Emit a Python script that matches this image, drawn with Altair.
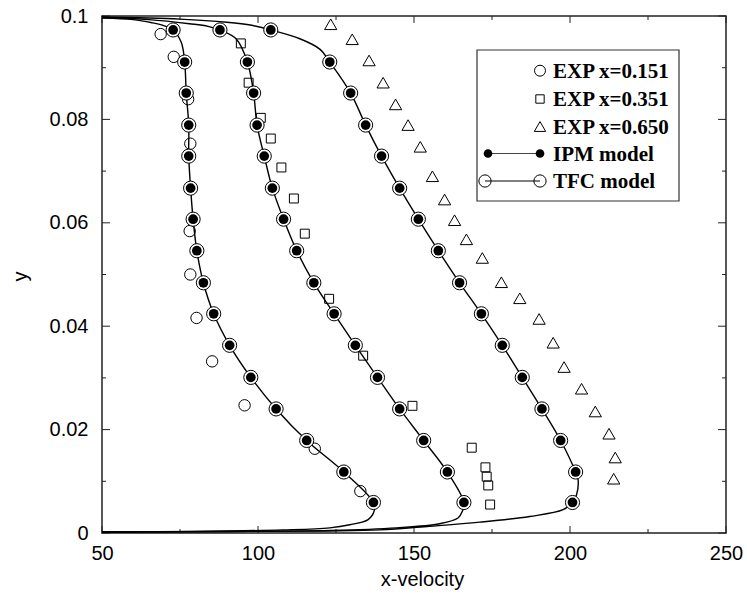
import altair as alt
import pandas as pd

# ---- model profiles (IPM / TFC share the same marker positions) ----
Y_MODEL = [0.0059, 0.0118, 0.0179, 0.0240, 0.0301, 0.0363, 0.0424, 0.0484,
           0.0546, 0.0607, 0.0667, 0.0729, 0.0789, 0.0851, 0.0911, 0.0973]
X_MODEL_151 = [137.0, 127.5, 115.6, 105.8, 97.7, 90.9, 85.8, 82.5,
               80.4, 79.2, 78.4, 77.8, 77.8, 77.0, 76.5, 72.8]
X_MODEL_351 = [166.0, 160.7, 153.1, 145.4, 138.3, 131.2, 124.4, 117.9,
               112.4, 108.2, 104.6, 102.0, 99.7, 98.6, 96.6, 87.8]
X_MODEL_650 = [200.8, 201.8, 197.0, 191.0, 184.7, 178.3, 171.6, 164.6,
               157.8, 151.4, 145.4, 139.6, 134.5, 129.7, 123.0, 104.1]

# continuous model curves, wall to wall (ordered along the profile)
CURVE_151_X = [50, 80, 108, 123, 129.4, 135.3, 137.2, 137.0, 127.5, 115.6, 105.8,
               97.7, 90.9, 85.8, 82.5, 80.4, 79.2, 78.4, 77.8, 77.8, 77.0, 76.5,
               75.4, 72.8, 70.0, 66.0, 60.0, 50]
CURVE_151_Y = [0.0002, 0.0003, 0.0006, 0.0010, 0.0016, 0.0026, 0.0042, 0.0059,
               0.0118, 0.0179, 0.0240, 0.0301, 0.0363, 0.0424, 0.0484, 0.0546,
               0.0607, 0.0667, 0.0729, 0.0789, 0.0851, 0.0911, 0.0949, 0.0973,
               0.0981, 0.0987, 0.0993, 0.0996]
CURVE_351_X = [50, 90, 123, 144.4, 158.2, 164.1, 165.5, 166.0, 160.7, 153.1, 145.4,
               138.3, 131.2, 124.4, 117.9, 112.4, 108.2, 104.6, 102.0, 99.7, 98.6,
               96.6, 93.1, 87.8, 84.0, 78.0, 65.0, 50]
CURVE_351_Y = [0.0002, 0.0003, 0.0005, 0.0010, 0.0018, 0.0029, 0.0042, 0.0059,
               0.0118, 0.0179, 0.0240, 0.0301, 0.0363, 0.0424, 0.0484, 0.0546,
               0.0607, 0.0667, 0.0729, 0.0789, 0.0851, 0.0911, 0.0955, 0.0973,
               0.0980, 0.0985, 0.0993, 0.0997]
CURVE_650_X = [50, 90, 123, 139, 155, 171.1, 187.1, 197.8, 200.8, 202.1, 202.6,
               201.8, 197.0, 191.0, 184.7, 178.3, 171.6, 164.6, 157.8, 151.4, 145.4,
               139.6, 134.5, 129.7, 123.0, 119.8, 113.4, 104.1, 98.0, 90.0, 75.0, 50]
CURVE_650_Y = [0.0002, 0.0003, 0.0004, 0.0006, 0.0013, 0.0021, 0.0032, 0.0045,
               0.0059, 0.0074, 0.0103, 0.0118, 0.0179, 0.0240, 0.0301, 0.0363,
               0.0424, 0.0484, 0.0546, 0.0607, 0.0667, 0.0729, 0.0789, 0.0851,
               0.0911, 0.0936, 0.0956, 0.0973, 0.0982, 0.0988, 0.0994, 0.0998]

# ---- experimental data ----
EXP_151_X = [68.8, 73.0, 77.6, 78.3, 78.5, 78.1, 78.3, 80.3, 85.3, 95.7, 118.2, 132.8]
EXP_151_Y = [0.0965, 0.0921, 0.0839, 0.0753, 0.0668, 0.0584, 0.0500, 0.0416,
             0.0332, 0.0247, 0.0163, 0.0081]
EXP_351_X = [94.5, 97.0, 100.9, 104.1, 107.5, 111.5, 115.0, 122.8, 133.7, 149.5,
             168.5, 172.9, 173.3, 173.8, 174.4]
EXP_351_Y = [0.0947, 0.0871, 0.0803, 0.0763, 0.0707, 0.0647, 0.0579, 0.0453,
             0.0343, 0.0246, 0.0165, 0.0127, 0.0109, 0.0092, 0.0055]
EXP_650_X = [123.3, 130.2, 135.6, 140.1, 144.1, 148.1, 152.0, 155.9, 159.8, 163.0,
             166.8, 171.9, 178.0, 183.9, 190.1, 194.6, 198.1, 203.7, 208.1, 212.5,
             214.5, 214.0]
EXP_650_Y = [0.0984, 0.0955, 0.0914, 0.0871, 0.0829, 0.0789, 0.0747, 0.0690,
             0.0645, 0.0605, 0.0568, 0.0532, 0.0485, 0.0454, 0.0414, 0.0368,
             0.0321, 0.0279, 0.0235, 0.0192, 0.0146, 0.0105]

# ---- axes ----
X_TICKS = [50, 100, 150, 200, 250]
X_MINOR = [75, 125, 175, 225]
Y_TICKS = [0, 0.02, 0.04, 0.06, 0.08, 0.1]
Y_MINOR = [0.01, 0.03, 0.05, 0.07, 0.09]

LEGEND_LABELS = ["EXP x=0.151", "EXP x=0.351", "EXP x=0.650", "IPM model", "TFC model"]

W, H = 624, 517
FONT = "Liberation Sans"
INK = "#000000"

xscale = alt.Scale(domain=[50, 250], nice=False, zero=False)
yscale = alt.Scale(domain=[0, 0.1], nice=False, zero=False)

x_axis = alt.Axis(values=X_TICKS, format="d", ticks=False, tickSize=0, domain=False,
                  grid=False, labelFont=FONT, labelFontSize=20, labelColor=INK,
                  labelPadding=10, labelFlush=False, title="x-velocity",
                  titleFont=FONT, titleFontSize=20, titleFontWeight="normal",
                  titleColor=INK, titleX=320, titleY=52, titleBaseline="alphabetic",
                  titleAlign="center")
y_axis = alt.Axis(values=Y_TICKS, format="~g", ticks=False, tickSize=0, domain=False,
                  grid=False, labelFont=FONT, labelFontSize=20, labelColor=INK,
                  labelPadding=14, labelFlush=False, title="y",
                  titleFont=FONT, titleFontSize=20, titleFontWeight="normal",
                  titleColor=INK, titleAngle=-90, titleX=-76, titleY=260,
                  titleAlign="center", titleBaseline="alphabetic")


def X(field):
    return alt.X(f"{field}:Q", scale=xscale, axis=x_axis)


def Y(field):
    return alt.Y(f"{field}:Q", scale=yscale, axis=y_axis)


# tables built from the arrays above
curves = pd.concat([
    pd.DataFrame({"x": cx, "y": cy, "profile": name, "idx": range(len(cx))})
    for name, cx, cy in [("x=0.151", CURVE_151_X, CURVE_151_Y),
                         ("x=0.351", CURVE_351_X, CURVE_351_Y),
                         ("x=0.650", CURVE_650_X, CURVE_650_Y)]
], ignore_index=True)

model = pd.concat([
    pd.DataFrame({"x": mx, "y": Y_MODEL, "profile": name})
    for name, mx in [("x=0.151", X_MODEL_151), ("x=0.351", X_MODEL_351),
                     ("x=0.650", X_MODEL_650)]
], ignore_index=True)

exp151 = pd.DataFrame({"x": EXP_151_X, "y": EXP_151_Y})
exp351 = pd.DataFrame({"x": EXP_351_X, "y": EXP_351_Y})
exp650 = pd.DataFrame({"x": EXP_650_X, "y": EXP_650_Y})

layers = []

# inward tick marks on all four sides
def xticks(vals, length):
    d = pd.DataFrame({"t": vals})
    bottom = alt.Chart(d).mark_rule(color="#222", strokeWidth=1).encode(
        x=X("t"), y=alt.value(H), y2=alt.value(H - length))
    top = alt.Chart(d).mark_rule(color="#222", strokeWidth=1).encode(
        x=X("t"), y=alt.value(0), y2=alt.value(length))
    return [bottom, top]


def yticks(vals, length):
    d = pd.DataFrame({"t": vals})
    left = alt.Chart(d).mark_rule(color="#222", strokeWidth=1).encode(
        y=Y("t"), x=alt.value(0), x2=alt.value(length))
    right = alt.Chart(d).mark_rule(color="#222", strokeWidth=1).encode(
        y=Y("t"), x=alt.value(W), x2=alt.value(W - length))
    return [left, right]


layers += xticks(X_TICKS, 7) + xticks(X_MINOR, 4)
layers += yticks(Y_TICKS, 8) + yticks(Y_MINOR, 4)

# model curves
layers.append(
    alt.Chart(curves).mark_line(color=INK, strokeWidth=1.4, interpolate="catmull-rom").encode(
        x=X("x"), y=Y("y"), detail="profile:N", order="idx:Q")
)

# experimental points
layers.append(alt.Chart(exp151).mark_point(shape="circle", size=130, filled=False,
                                           color=INK, strokeWidth=1, opacity=1).encode(x=X("x"), y=Y("y")))
layers.append(alt.Chart(exp351).mark_point(shape="square", size=80, filled=False,
                                           color=INK, strokeWidth=1, opacity=1).encode(x=X("x"), y=Y("y")))
layers.append(alt.Chart(exp650).mark_point(shape="triangle-up", size=150, filled=False,
                                           color=INK, strokeWidth=1, opacity=1).encode(x=X("x"), y=Y("y")))

# TFC rings with IPM dots inside
layers.append(alt.Chart(model).mark_point(shape="circle", size=200, fill="white",
                                          fillOpacity=1, stroke=INK, strokeWidth=1,
                                          opacity=1).encode(x=X("x"), y=Y("y")))
layers.append(alt.Chart(model).mark_point(shape="circle", size=95, filled=True,
                                          color=INK, opacity=1).encode(x=X("x"), y=Y("y")))

# legend box
one = pd.DataFrame({"k": [0]})
layers.append(alt.Chart(one).mark_rect(fill="white", stroke="#333", strokeWidth=1.2).encode(
    x=alt.value(375), x2=alt.value(577), y=alt.value(34), y2=alt.value(185)))

rows_y = [54.7, 83.0, 110.5, 137.5, 165.0]
sym_x, txt_x = 438, 451
for label, ry in zip(LEGEND_LABELS, rows_y):
    layers.append(alt.Chart(one).mark_text(align="left", baseline="middle", font="Liberation Serif",
                                           fontWeight="bold", fontSize=21, color=INK).encode(
        x=alt.value(txt_x), y=alt.value(ry + 1), text=alt.value(label)))

layers.append(alt.Chart(one).mark_point(shape="circle", size=120, filled=False, color=INK,
                                        strokeWidth=1, opacity=1).encode(
    x=alt.value(sym_x), y=alt.value(rows_y[0])))
layers.append(alt.Chart(one).mark_point(shape="square", size=70, filled=False, color=INK,
                                        strokeWidth=1, opacity=1).encode(
    x=alt.value(sym_x), y=alt.value(rows_y[1])))
layers.append(alt.Chart(one).mark_point(shape="triangle-up", size=130, filled=False, color=INK,
                                        strokeWidth=1, opacity=1).encode(
    x=alt.value(sym_x), y=alt.value(rows_y[2])))

# IPM legend entry: line with filled dots at both ends
layers.append(alt.Chart(one).mark_rule(color="#444", strokeWidth=1.2).encode(
    x=alt.value(386), x2=alt.value(sym_x), y=alt.value(rows_y[3])))
for sx in (386, sym_x):
    layers.append(alt.Chart(one).mark_point(shape="circle", size=75, filled=True, color=INK,
                                            opacity=1).encode(
        x=alt.value(sx), y=alt.value(rows_y[3])))

# TFC legend entry: line with open circles at both ends
layers.append(alt.Chart(one).mark_rule(color=INK, strokeWidth=1.2).encode(
    x=alt.value(383), x2=alt.value(sym_x), y=alt.value(rows_y[4])))
for sx in (383, sym_x):
    layers.append(alt.Chart(one).mark_point(shape="circle", size=150, filled=False, color=INK,
                                            strokeWidth=1, opacity=1).encode(
        x=alt.value(sx), y=alt.value(rows_y[4])))

chart = alt.layer(*layers).properties(
    width=W, height=H,
    autosize=alt.AutoSizeParams(type="none"),
    padding={"left": 102, "top": 16, "right": 21, "bottom": 65},
    background="white",
).configure_view(stroke="#222", strokeWidth=1.5)

chart.save("out.html", embed_options={"renderer": "svg", "actions": False})
